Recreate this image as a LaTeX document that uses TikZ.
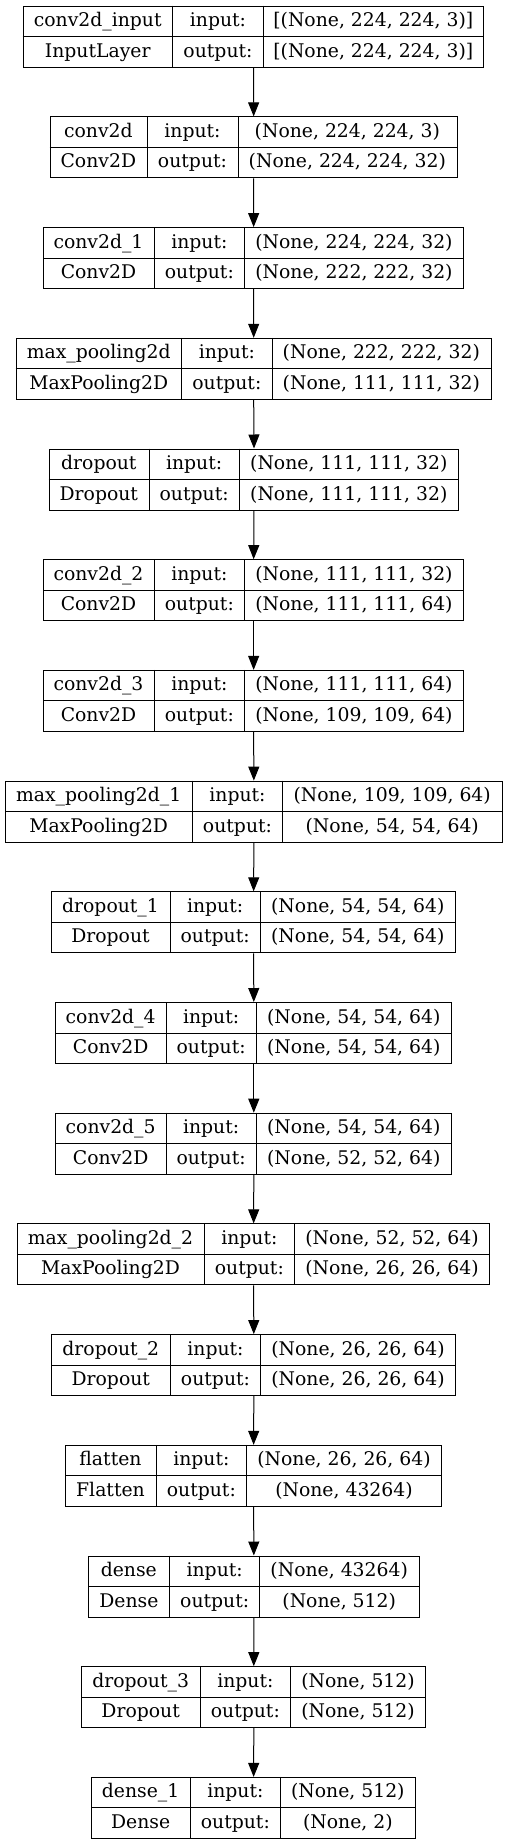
\documentclass[tikz,border=0pt]{standalone}
\usepackage{fontspec}
\setmainfont{DejaVu Serif}
\usetikzlibrary{arrows.meta}
\begin{document}
\begin{tikzpicture}[x=1pt,y=-1pt,
  box/.style={draw=black, line width=1pt, inner sep=0pt, anchor=north west, minimum height=61pt},
  lbl/.style={anchor=base, inner sep=0pt, font=\fontsize{18.8}{22}\selectfont},
  arr/.style={line width=1pt, -{Triangle[length=14pt,width=11pt]}},
  sepline/.style={line width=1pt}]
\useasboundingbox (0,0) rectangle (507,1844);
\foreach \i/\l/\a/\b/\r/\na/\ty/\ti/\to in {
 1/22.7/172.7/263.3/483.3/{conv2d\_input}/{InputLayer}/{[(None, 224, 224, 3)]}/{[(None, 224, 224, 3)]},
 2/49.7/147/238/456.7/{conv2d}/{Conv2D}/{(None, 224, 224, 3)}/{(None, 224, 224, 32)},
 3/43/154/244.7/463.3/{conv2d\_1}/{Conv2D}/{(None, 224, 224, 32)}/{(None, 222, 222, 32)},
 4/15.7/181.7/272/490.7/{max\_pooling2d}/{MaxPooling2D}/{(None, 222, 222, 32)}/{(None, 111, 111, 32)},
 5/48.7/149/239.3/458.3/{dropout}/{Dropout}/{(None, 111, 111, 32)}/{(None, 111, 111, 32)},
 6/43/154/244.7/463.3/{conv2d\_2}/{Conv2D}/{(None, 111, 111, 32)}/{(None, 111, 111, 64)},
 7/43/154/244.7/463.3/{conv2d\_3}/{Conv2D}/{(None, 111, 111, 64)}/{(None, 109, 109, 64)},
 8/5/192.3/282.7/501.7/{max\_pooling2d\_1}/{MaxPooling2D}/{(None, 109, 109, 64)}/{(None, 54, 54, 64)},
 9/51/170/260.3/455.3/{dropout\_1}/{Dropout}/{(None, 54, 54, 64)}/{(None, 54, 54, 64)},
 10/55.3/166/256.3/451.3/{conv2d\_4}/{Conv2D}/{(None, 54, 54, 64)}/{(None, 54, 54, 64)},
 11/55.3/166/256.3/451.3/{conv2d\_5}/{Conv2D}/{(None, 54, 54, 64)}/{(None, 52, 52, 64)},
 12/17/204/294.7/489.3/{max\_pooling2d\_2}/{MaxPooling2D}/{(None, 52, 52, 64)}/{(None, 26, 26, 64)},
 13/51.3/170.3/260.7/455.3/{dropout\_2}/{Dropout}/{(None, 26, 26, 64)}/{(None, 26, 26, 64)},
 14/65/156/246.7/441.3/{flatten}/{Flatten}/{(None, 26, 26, 64)}/{(None, 43264)},
 15/88/169.7/259.7/418.7/{dense}/{Dense}/{(None, 43264)}/{(None, 512)},
 16/81.3/200/290.7/425.3/{dropout\_3}/{Dropout}/{(None, 512)}/{(None, 512)},
 17/91.3/190/280.7/415/{dense\_1}/{Dense}/{(None, 512)}/{(None, 2)}}{
  \pgfmathsetmacro\ytop{5.7+110.7*(\i-1)}
  \pgfmathsetmacro\w{\r-\l}
  \node[box, minimum width=\w pt] (L\i) at (\l,\ytop) {};
  \draw[sepline] (L\i.west) -- (L\i.east);
  \draw[sepline] (\a,0 |- L\i.north) -- (\a,0 |- L\i.south);
  \draw[sepline] (\b,0 |- L\i.north) -- (\b,0 |- L\i.south);
  \node[lbl] (L\i-name) at ({(\l+\a)/2},\ytop+21) {\na};
  \node[lbl] (L\i-type) at ({(\l+\a)/2},\ytop+51.5) {\ty};
  \node[lbl] (L\i-in) at ({(\a+\b)/2},\ytop+21) {input:};
  \node[lbl] (L\i-out) at ({(\a+\b)/2},\ytop+51.5) {output:};
  \node[lbl] (L\i-inv) at ({(\b+\r)/2},\ytop+21) {\ti};
  \node[lbl] (L\i-outv) at ({(\b+\r)/2},\ytop+51.5) {\to};
}
\foreach \i in {1,...,16}{
  \pgfmathtruncatemacro\j{\i+1}
  \draw[arr] (L\i.south) -- (L\j.north);
}
\end{tikzpicture}
\end{document}
